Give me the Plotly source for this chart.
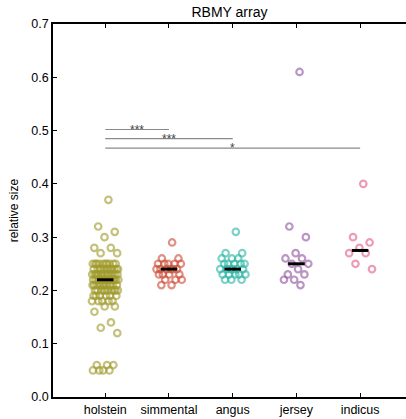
import numpy as np
import plotly.graph_objects as go

categories = ["holstein", "simmental", "angus", "jersey", "indicus"]

holstein = [0.37, 0.32, 0.31, 0.30, 0.28, 0.28, 0.27, 0.27,
            0.25, 0.25, 0.25, 0.25, 0.25, 0.25, 0.25, 0.25, 0.25, 0.25,
            0.24, 0.24, 0.24, 0.24, 0.24, 0.24, 0.24, 0.24, 0.24, 0.24, 0.24, 0.24,
            0.23, 0.23, 0.23, 0.23, 0.23, 0.23, 0.23, 0.23, 0.23, 0.23, 0.23, 0.23, 0.23, 0.23,
            0.22, 0.22, 0.22, 0.22, 0.22, 0.22, 0.22, 0.22, 0.22, 0.22, 0.22, 0.22, 0.22, 0.22,
            0.21, 0.21, 0.21, 0.21, 0.21, 0.21, 0.21, 0.21, 0.21, 0.21, 0.21, 0.21,
            0.20, 0.20, 0.20, 0.20, 0.20, 0.20, 0.20, 0.20, 0.20, 0.20,
            0.19, 0.19, 0.19, 0.19, 0.19, 0.19,
            0.18, 0.18, 0.18, 0.18, 0.18,
            0.17, 0.17, 0.16, 0.14, 0.13, 0.12,
            0.06, 0.06, 0.06, 0.05, 0.05, 0.05, 0.05]
simmental = [0.29, 0.26, 0.26, 0.25, 0.25, 0.25, 0.25, 0.25,
             0.24, 0.24, 0.24, 0.24, 0.24, 0.24,
             0.23, 0.23, 0.23, 0.23, 0.22, 0.22, 0.22, 0.21, 0.21]
angus = [0.31, 0.27, 0.27, 0.26, 0.26, 0.26, 0.25, 0.25, 0.25, 0.25, 0.25,
         0.24, 0.24, 0.24, 0.24, 0.24, 0.24,
         0.23, 0.23, 0.23, 0.23, 0.23, 0.22, 0.22, 0.22]
jersey = [0.61, 0.32, 0.30, 0.27, 0.26, 0.26, 0.25, 0.25, 0.24,
          0.23, 0.23, 0.22, 0.22, 0.21]
indicus = [0.40, 0.30, 0.29, 0.28, 0.27, 0.27, 0.25, 0.24]

series = [holstein, simmental, angus, jersey, indicus]
colors = ["rgb(160,155,45)", "rgb(205,78,55)", "rgb(45,180,165)",
          "rgb(145,85,160)", "rgb(225,95,140)"]

sig_pairs = [(0, 1), (0, 2), (0, 4)]
sig_levels = [0.502, 0.485, 0.467]
sig_labels = ["***", "***", "*"]

y_ticks = [0.0, 0.1, 0.2, 0.3, 0.4, 0.5, 0.6, 0.7]

PHI = 0.6180339887
JIT = 0.21
HALF = 0.13

fig = go.Figure()
for i, (vals, col) in enumerate(zip(series, colors)):
    n = len(vals)
    offs = np.array([((k + 1) * PHI) % 1.0 for k in range(n)]) * 2 - 1
    xs = i + JIT * offs
    fig.add_trace(go.Scatter(
        x=xs, y=vals, mode="markers", showlegend=False,
        marker=dict(symbol="circle-open", size=6.5, color=col, opacity=0.62,
                    line=dict(width=2.2, color=col)),
    ))

mx, my = [], []
for i, vals in enumerate(series):
    m = float(np.median(vals))
    mx += [i - HALF, i + HALF, None]
    my += [m, m, None]
fig.add_trace(go.Scatter(x=mx, y=my, mode="lines", showlegend=False,
                         line=dict(color="black", width=3)))

for (a, b), lvl, lab in zip(sig_pairs, sig_levels, sig_labels):
    fig.add_shape(type="line", x0=a, x1=b, y0=lvl, y1=lvl, xref="x", yref="y",
                  line=dict(color="#8a8a8a", width=1.2))
    fig.add_annotation(x=(a + b) / 2, y=lvl, text=lab, showarrow=False,
                       xanchor="center", yanchor="middle",
                       font=dict(size=12, color="#444"))

fig.update_layout(
    width=406, height=419,
    margin=dict(l=53, r=0, t=24, b=22),
    paper_bgcolor="white", plot_bgcolor="white",
    font=dict(family="Liberation Sans, Arial, sans-serif", size=12, color="black"),
    title=dict(text="RBMY array", x=0.5, xref="paper", y=1 - 12 / 419,
               yref="container", xanchor="center", yanchor="middle",
               font=dict(size=14, color="black")),
)
fig.update_xaxes(range=[-0.82, 4.72], tickvals=list(range(len(categories))),
                 ticktext=categories, showgrid=False, zeroline=False,
                 showline=True, linecolor="black", linewidth=1.6, mirror="ticks",
                 ticks="inside", ticklen=4, tickcolor="black", tickwidth=1,
                 tickfont=dict(size=12.5))
fig.update_yaxes(range=[0, 0.7], tickvals=y_ticks,
                 ticktext=[f"{v:.1f}" for v in y_ticks], showgrid=False,
                 zeroline=False, showline=True, linecolor="black", linewidth=1.6,
                 ticks="inside", ticklen=4, tickcolor="black", tickwidth=1,
                 tickfont=dict(size=12.5),
                 title=dict(text="relative size", font=dict(size=12), standoff=10))

fig.write_html("out.html")
